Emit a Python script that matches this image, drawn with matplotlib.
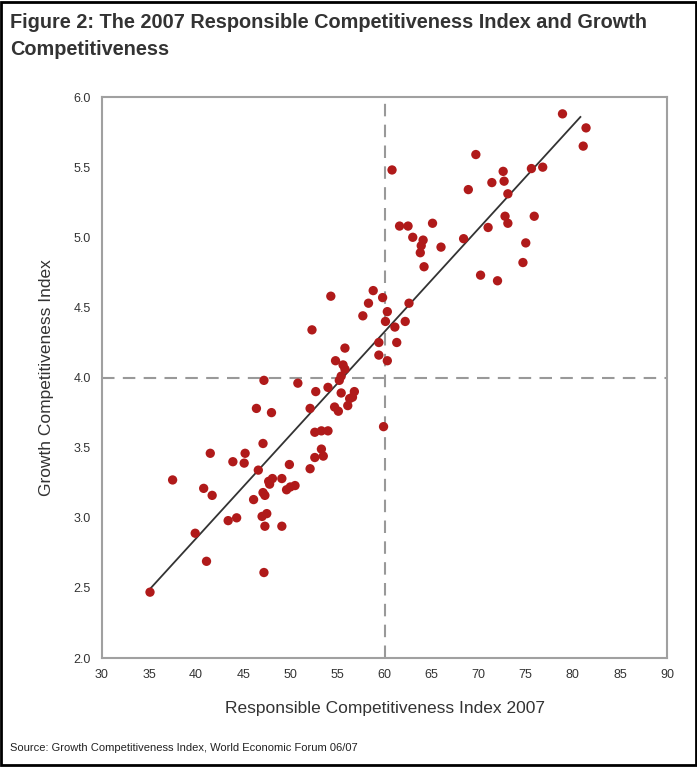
import numpy as np
import matplotlib.pyplot as plt
from matplotlib.patches import Rectangle

plt.rcParams['font.family'] = 'Liberation Sans'

# Responsible Competitiveness Index 2007 (x) and Growth Competitiveness Index (y)
rci = [78.9, 81.4, 81.1, 69.7, 72.6, 72.7, 71.4, 75.6, 76.8, 68.9,
       73.1, 60.8, 61.6, 62.5, 65.1, 63.0, 64.1, 63.9, 63.8, 66.0,
       68.4, 71.0, 72.8, 73.1, 75.9, 64.2, 75.0, 74.7, 70.2, 72.0,
       58.8, 59.8, 58.3, 54.3, 60.3, 60.1, 61.1, 57.7, 52.3, 62.6,
       62.2, 55.8, 59.4, 61.3, 59.4, 60.3, 54.8, 55.6, 55.8, 55.4,
       55.2, 47.2, 50.8, 54.0, 52.7, 55.4, 56.8, 56.6, 56.3, 56.1,
       54.7, 55.1, 52.1, 48.0, 46.4, 59.9, 52.6, 53.3, 54.0, 47.1,
       53.3, 52.6, 53.5, 52.1, 49.9, 41.5, 45.2, 43.9, 45.1, 46.6,
       37.5, 40.8, 41.7, 47.7, 48.1, 49.1, 47.8, 49.6, 50.0, 50.5,
       47.1, 47.3, 46.1, 43.4, 44.3, 47.0, 47.5, 47.3, 49.1, 39.9,
       41.1, 47.2, 35.1]
gci = [5.88, 5.78, 5.65, 5.59, 5.47, 5.40, 5.39, 5.49, 5.50, 5.34,
       5.31, 5.48, 5.08, 5.08, 5.10, 5.00, 4.98, 4.94, 4.89, 4.93,
       4.99, 5.07, 5.15, 5.10, 5.15, 4.79, 4.96, 4.82, 4.73, 4.69,
       4.62, 4.57, 4.53, 4.58, 4.47, 4.40, 4.36, 4.44, 4.34, 4.53,
       4.40, 4.21, 4.25, 4.25, 4.16, 4.12, 4.12, 4.09, 4.06, 4.01,
       3.98, 3.98, 3.96, 3.93, 3.90, 3.89, 3.90, 3.86, 3.85, 3.80,
       3.79, 3.76, 3.78, 3.75, 3.78, 3.65, 3.61, 3.62, 3.62, 3.53,
       3.49, 3.43, 3.44, 3.35, 3.38, 3.46, 3.46, 3.40, 3.39, 3.34,
       3.27, 3.21, 3.16, 3.26, 3.28, 3.28, 3.24, 3.20, 3.22, 3.23,
       3.18, 3.16, 3.13, 2.98, 3.00, 3.01, 3.03, 2.94, 2.94, 2.89,
       2.69, 2.61, 2.47]

x = np.array(rci)
y = np.array(gci)

fig = plt.figure(figsize=(6.97, 7.67), dpi=100)
ax = fig.add_axes([0.1463, 0.142, 0.8107, 0.7315])

# outer frame
fig.patches.append(Rectangle((0.002, 0.002), 0.996, 0.996, transform=fig.transFigure,
                             fill=False, edgecolor='black', linewidth=2))

fig.text(0.014, 0.971, 'Figure 2: The 2007 Responsible Competitiveness Index and Growth',
         fontsize=14.3, fontweight='bold', color='#333333', va='center', ha='left')
fig.text(0.014, 0.935, 'Competitiveness',
         fontsize=14.3, fontweight='bold', color='#333333', va='center', ha='left')
fig.text(0.014, 0.025, 'Source: Growth Competitiveness Index, World Economic Forum 06/07',
         fontsize=8, color='#222222', va='center', ha='left')

# quadrant lines
ax.axvline(60, color='#999999', lw=1.5, dashes=(6, 4), zorder=1)
ax.axhline(4.0, color='#999999', lw=1.5, dashes=(6, 4), zorder=1)

# scatter and fitted line
ax.scatter(x, y, s=45, color='#b01a1a', edgecolors='none', zorder=3)
k, b = np.polyfit(x, y, 1)
xs = np.array([x.min(), 80.8])
ax.plot(xs, k * xs + b, color='#333333', lw=1.3, zorder=2)

ax.set_xlim(30, 90)
ax.set_ylim(2.0, 6.0)
ax.set_xticks(np.arange(30, 91, 5))
ax.set_yticks(np.arange(2.0, 6.01, 0.5))
ax.set_yticklabels(['{:.1f}'.format(v) for v in np.arange(2.0, 6.01, 0.5)])
ax.tick_params(length=0, labelsize=9, colors='#333333', pad=8)
for s in ax.spines.values():
    s.set_color('#a0a0a0')
    s.set_linewidth(1.5)

ax.set_xlabel('Responsible Competitiveness Index 2007', fontsize=12.5, color='#333333', labelpad=14)
ax.set_ylabel('Growth Competitiveness Index', fontsize=12.5, color='#333333', labelpad=14)

plt.savefig('out.png', dpi=100)
